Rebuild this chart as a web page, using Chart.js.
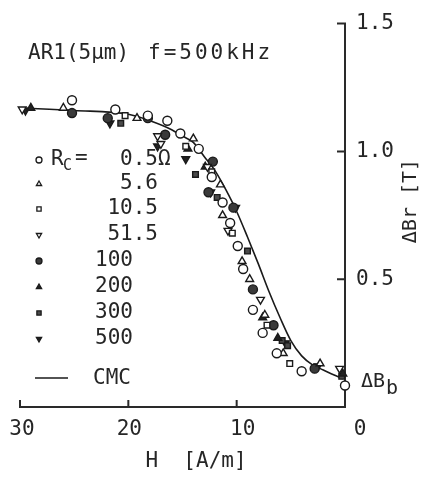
<!DOCTYPE html>
<html>
<head>
<meta charset="utf-8">
<script src="https://cdn.jsdelivr.net/npm/chart.js@4"></script>
<style>
  html, body { margin: 0; padding: 0; background: #fff; }
  #c { display: block; }
</style>
</head>
<body>
<canvas id="c" width="425" height="478"></canvas>
<script>
// ---- data ----
const xTickValues = [30, 20, 10, 0];
const xTickLabels = ['30', '20', '10', '0'];
const yTickValues = [0.5, 1.0, 1.5];

const cmcH = [30, 25, 20, 18, 16, 15, 14, 13, 12, 11, 10, 9, 8, 7, 6, 5, 4, 3, 2, 1, 0.2];
const cmcB = [1.17, 1.16, 1.145, 1.12, 1.085, 1.06, 1.035, 0.98, 0.925, 0.85, 0.765, 0.665, 0.56, 0.45, 0.35, 0.26, 0.2, 0.165, 0.145, 0.125, 0.11];

const rc05H = [25.2, 21.2, 18.2, 16.4, 15.2, 13.5, 12.3, 11.3, 10.6, 9.9, 9.4, 8.5, 7.6, 6.3, 4.0, 0.0];
const rc05B = [1.20, 1.164, 1.14, 1.12, 1.07, 1.01, 0.90, 0.80, 0.72, 0.63, 0.54, 0.38, 0.29, 0.21, 0.14, 0.084];

const rc56H = [26.0, 19.2, 14.0, 11.5, 11.3, 9.5, 8.8, 7.4, 5.7, 2.3];
const rc56B = [1.17, 1.13, 1.05, 0.87, 0.75, 0.57, 0.50, 0.36, 0.21, 0.17];

const rc105H = [20.3, 14.7, 12.3, 10.4, 7.2, 5.1];
const rc105B = [1.14, 1.02, 0.92, 0.68, 0.32, 0.17];

const rc515H = [29.8, 17.3, 17.0, 12.7, 10.8, 7.8, 0.5];
const rc515B = [1.165, 1.06, 1.03, 0.94, 0.69, 0.42, 0.15];

const rc100H = [25.2, 21.9, 18.2, 16.6, 12.6, 12.2, 10.3, 8.5, 6.6, 2.8];
const rc100B = [1.15, 1.13, 1.13, 1.065, 0.84, 0.96, 0.78, 0.46, 0.32, 0.15];

const rc200H = [29.0, 14.5, 12.9, 7.6, 6.2, 0.2];
const rc200B = [1.17, 1.01, 0.94, 0.35, 0.27, 0.13];

const rc300H = [20.7, 13.8, 11.8, 9.0, 5.8, 5.3, 0.3];
const rc300B = [1.11, 0.91, 0.82, 0.61, 0.26, 0.24, 0.12];

const rc500H = [29.5, 21.7, 17.3, 14.7, 12.4, 10.1, 5.5, 2.5];
const rc500B = [1.16, 1.11, 1.02, 0.97, 0.84, 0.78, 0.25, 0.16];

const legendLabels = ['0.5', '5.6', '10.5', '51.5', '100', '200', '300', '500'];

// ---- styles ----
const INK = '#262626';
const FONT = "'DejaVu Sans Mono', monospace";
const markerStyles = [
  { style: 'circle',   rot: 0,   fill: '#ffffff' },
  { style: 'triangle', rot: 0,   fill: '#ffffff' },
  { style: 'rect',     rot: 0,   fill: '#ffffff' },
  { style: 'triangle', rot: 180, fill: '#ffffff' },
  { style: 'circle',   rot: 0,   fill: '#3a3a3a' },
  { style: 'triangle', rot: 0,   fill: '#222222' },
  { style: 'rect',     rot: 0,   fill: '#4a4a4a' },
  { style: 'triangle', rot: 180, fill: '#222222' }
];
const seriesH = [rc05H, rc56H, rc105H, rc515H, rc100H, rc200H, rc300H, rc500H];
const seriesB = [rc05B, rc56B, rc105B, rc515B, rc100B, rc200B, rc300B, rc500B];

function pairs(hs, bs) { return hs.map((h, i) => ({ x: h, y: bs[i] })); }

const datasets = [{
  type: 'line',
  label: 'CMC',
  data: pairs(cmcH, cmcB),
  borderColor: '#1a1a1a',
  borderWidth: 1.6,
  pointRadius: 0,
  fill: false,
  cubicInterpolationMode: 'monotone',
  clip: false,
  order: 10
}];
markerStyles.forEach((m, i) => {
  datasets.push({
    type: 'scatter',
    label: legendLabels[i],
    data: pairs(seriesH[i], seriesB[i]),
    pointStyle: m.style,
    pointRotation: m.rot,
    pointRadius: m.style === 'rect' ? 4 : 4.5,
    pointBorderWidth: 1.4,
    pointBorderColor: '#1a1a1a',
    pointBackgroundColor: m.fill,
    showLine: false,
    clip: false,
    order: 1
  });
});

function drawMarker(ctx, m, x, y, r) {
  ctx.save();
  ctx.fillStyle = m.fill;
  ctx.strokeStyle = '#1a1a1a';
  ctx.lineWidth = 1.3;
  if (Chart.helpers && Chart.helpers.drawPoint) {
    Chart.helpers.drawPoint(ctx, { pointStyle: m.style, rotation: m.rot, radius: r, borderWidth: 1.3 }, x, y);
  }
  ctx.restore();
}

const xLabelShift = [2, 1, 6, 15];

const decor = {
  id: 'decor',
  beforeDatasetsDraw(chart) {
    const { ctx, scales: { x, y } } = chart;
    const xl = x.getPixelForValue(30), xr = x.getPixelForValue(0);
    const yb = y.getPixelForValue(0), yt = y.getPixelForValue(1.5);
    ctx.save();
    ctx.strokeStyle = '#2a2a2a';
    ctx.lineWidth = 2;
    ctx.lineCap = 'square';
    ctx.beginPath();
    ctx.moveTo(xl, yb); ctx.lineTo(xr, yb); ctx.lineTo(xr, yt);
    xTickValues.forEach(v => {
      if (v === 0) return;
      const p = x.getPixelForValue(v);
      ctx.moveTo(p, yb); ctx.lineTo(p, yb - 6);
    });
    yTickValues.forEach(v => {
      const p = y.getPixelForValue(v);
      ctx.moveTo(xr, p); ctx.lineTo(xr - 7, p);
    });
    ctx.stroke();
    ctx.restore();
  },
  afterDraw(chart) {
    const { ctx, scales: { x, y } } = chart;
    ctx.save();
    ctx.fillStyle = INK;

    // x tick labels
    const yb = y.getPixelForValue(0);
    ctx.font = '21px ' + FONT;
    ctx.textAlign = 'center';
    ctx.textBaseline = 'middle';
    xTickValues.forEach((v, i) => {
      ctx.fillText(xTickLabels[i], x.getPixelForValue(v) + xLabelShift[i], yb + 23);
    });

    // header text
    ctx.textBaseline = 'alphabetic';
    ctx.textAlign = 'left';
    ctx.fillText('AR1(5\u03bcm)', 28, 59);
    try { ctx.letterSpacing = '3px'; } catch (e) {}
    ctx.fillText('f=500kHz', 148, 59);
    try { ctx.letterSpacing = '0px'; } catch (e) {}

    // legend
    const rows = [160, 184, 209, 235, 261, 287, 313, 339];
    ctx.font = '21px ' + FONT;
    ctx.textBaseline = 'middle';
    ctx.textAlign = 'left';
    ctx.fillText('R', 51, rows[0]);
    ctx.font = '15px ' + FONT;
    ctx.fillText('C', 63, rows[0] + 6);
    ctx.font = '21px ' + FONT;
    ctx.fillText('=', 75, rows[0] - 1);
    legendLabels.forEach((lab, i) => {
      drawMarker(ctx, markerStyles[i], 39, rows[i], 3);
      ctx.textAlign = 'right';
      const isInt = lab.indexOf('.') < 0;
      ctx.fillText(lab, isInt ? 133 : 158, rows[i]);
      if (i === 0) { ctx.textAlign = 'left'; ctx.fillText('\u03a9', 158, rows[i]); }
    });
    ctx.strokeStyle = '#1a1a1a';
    ctx.lineWidth = 1.4;
    ctx.beginPath(); ctx.moveTo(35, 378); ctx.lineTo(68, 378); ctx.stroke();
    ctx.textAlign = 'left';
    ctx.fillText('CMC', 93, 379);

    // delta Bb
    ctx.textBaseline = 'alphabetic';
    ctx.font = '20px ' + FONT;
    ctx.fillText('\u0394B', 361, 387);
    ctx.fillText('b', 386, 394);

    // x title
    ctx.textAlign = 'center';
    ctx.font = '21px ' + FONT;
    ctx.fillText('H  [A/m]', 196, 467);

    // y title (rotated, reading bottom to top)
    ctx.save();
    ctx.translate(411, 201);
    ctx.rotate(-Math.PI / 2);
    ctx.textBaseline = 'middle';
    ctx.textAlign = 'center';
    ctx.font = '20px ' + FONT;
    ctx.fillText('\u0394Br [T]', 0, 0);
    ctx.restore();

    ctx.restore();
  }
};

Chart.defaults.font.family = FONT;
Chart.defaults.color = INK;

new Chart(document.getElementById('c'), {
  data: { datasets },
  options: {
    responsive: false,
    devicePixelRatio: 1,
    animation: false,
    layout: { padding: { left: 20, top: 13, right: 0, bottom: 0 } },
    plugins: { legend: { display: false }, tooltip: { enabled: false } },
    scales: {
      x: {
        type: 'linear',
        position: 'bottom',
        reverse: true,
        min: 0, max: 30,
        grid: { display: false, drawTicks: false },
        border: { display: false },
        ticks: { display: false, stepSize: 10 },
        afterFit: s => { s.height = 71; }
      },
      y: {
        type: 'linear',
        position: 'right',
        min: 0, max: 1.5,
        grid: { display: false, drawTicks: false },
        border: { display: false },
        ticks: {
          stepSize: 0.5,
          padding: 11,
          font: { size: 21 },
          color: INK,
          callback: v => (v === 0 ? '' : v.toFixed(1))
        },
        afterFit: s => { s.width = 80; }
      }
    }
  },
  plugins: [decor]
});
</script>
</body>
</html>
